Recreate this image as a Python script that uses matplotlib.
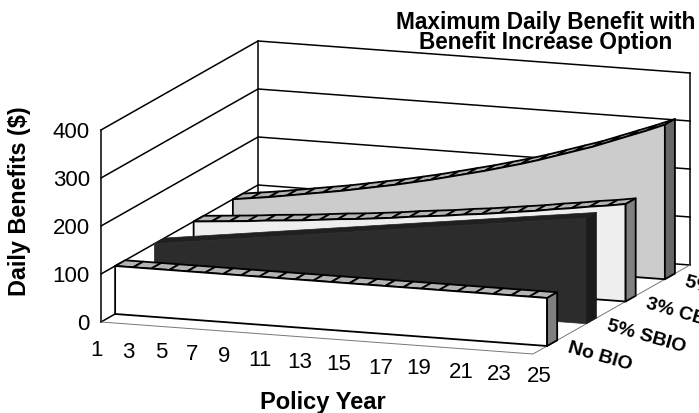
import matplotlib
matplotlib.use("Agg")
import matplotlib.pyplot as plt
from matplotlib.patches import Polygon

plt.rcParams["font.family"] = ["Liberation Sans", "DejaVu Sans"]

years = list(range(1, 26))
noBio = [100] * 25
simple5 = [100, 105, 110, 115, 120, 125, 130, 135, 140, 145, 150, 155, 160,
           165, 170, 175, 180, 185, 190, 195, 200, 205, 210, 215, 220]
compound3 = [100, 103, 106, 109, 113, 116, 119, 123, 127, 130, 134, 138, 143,
             147, 151, 156, 160, 165, 170, 175, 181, 186, 192, 197, 203]
compound5 = [100, 105, 110, 116, 122, 128, 134, 141, 148, 155, 163, 171, 180,
             189, 198, 208, 218, 229, 241, 253, 265, 279, 293, 307, 322]
seriesLabels = ["No BIO", "5% SBIO", "3% CBIO", "5% CBIO"]
valueTicks = [0, 100, 200, 300, 400]
yearTicks = [1, 3, 5, 7, 9, 11, 13, 15, 17, 19, 21, 23, 25]
# подписи годов в оригинале стоят неровно
yearLabelX = [97, 128, 161, 192, 224, 260, 300, 339, 381, 419, 461, 499, 539]
yearLabelY = [351, 352, 353, 354, 356, 360, 363, 365, 368, 369, 372, 375, 376]

def project(year, depth, value):
    # косая проекция: год, глубина (0..1), значение -> пиксели
    u = (year - 1) / 24
    return (101 + 432 * u + 157 * depth, 322 + 32 * u - 89 * depth - 0.48 * value)

def quad(ax, points, face, edge="black", lw=1.3, z=2):
    ax.add_patch(Polygon(points, closed=True, facecolor=face, edgecolor=edge,
                         linewidth=lw, joinstyle="round", zorder=z))

def drawRibbon(ax, values, depth, front, side, top, hatched=True):
    back = depth + 0.064
    edge = "black" if hatched else front
    pts = [project(years[0], depth, 0)]
    pts += [project(y, depth, v) for y, v in zip(years, values)]
    pts.append(project(years[-1], depth, 0))
    if hatched:
        for i in range(len(years) - 1):
            quad(ax, [project(years[i], depth, values[i]),
                      project(years[i + 1], depth, values[i + 1]),
                      project(years[i + 1], back, values[i + 1]),
                      project(years[i], back, values[i])], top)
    else:
        topPts = [project(y, depth, v) for y, v in zip(years, values)]
        topPts += [project(y, back, v) for y, v in zip(years[::-1], values[::-1])]
        quad(ax, topPts, top, edge=top, lw=0.5)
    quad(ax, pts, front, edge=edge, lw=1.3 if hatched else 0.5)
    quad(ax, [project(years[-1], depth, 0), project(years[-1], depth, values[-1]),
              project(years[-1], back, values[-1]), project(years[-1], back, 0)],
         side, edge=edge if hatched else side, lw=1.3 if hatched else 0.5)

fig = plt.figure(figsize=(6.99, 4.13), dpi=100)
ax = fig.add_axes([0, 0, 1, 1])
ax.set_xlim(0, 699)
ax.set_ylim(413, 0)
ax.axis("off")

# стенки и линии сетки
for tick in valueTicks:
    a = project(1, 0, tick)
    b = project(1, 1, tick)
    c = project(25, 1, tick)
    ax.plot([a[0], b[0], c[0]], [a[1], b[1], c[1]], color="black", lw=1.1, zorder=1)
    ax.text(a[0] - 11, a[1] + 3, str(tick), ha="right", va="center", fontsize=16)
for year, depth in [(1, 0), (1, 1), (25, 1)]:
    a = project(year, depth, 0)
    b = project(year, depth, valueTicks[-1])
    ax.plot([a[0], b[0]], [a[1], b[1]], color="black", lw=1.1, zorder=1)
# передний и правый край пола
floor = [project(1, 0, 0), project(25, 0, 0), project(25, 1, 0)]
ax.plot([p[0] for p in floor], [p[1] for p in floor], color="#777777", lw=0.7, zorder=1)

drawRibbon(ax, compound5, 0.84, "#cccccc", "#666666", "#b0b0b0")
drawRibbon(ax, compound3, 0.59, "#eeeeee", "#808080", "#b4b4b4")
drawRibbon(ax, simple5, 0.34, "#2c2c2c", "#1a1a1a", "#202020", hatched=False)
drawRibbon(ax, noBio, 0.09, "white", "#808080", "#b4b4b4")

for year, x, y in zip(yearTicks, yearLabelX, yearLabelY):
    ax.text(x, y, str(year), ha="center", va="center", fontsize=16)

for depth, label in zip([0.09, 0.34, 0.59, 0.84], seriesLabels):
    x, y = project(25, depth, 0)
    ax.text(x + 23, y - 6, label, ha="left", va="top", fontsize=14, fontweight="bold",
            rotation=-16, rotation_mode="anchor")

ax.text(546, 22, "Maximum Daily Benefit with", ha="center", va="center", fontsize=16.3, fontweight="bold")
ax.text(546, 43, "Benefit Increase Option", ha="center", va="center", fontsize=16.3, fontweight="bold")
ax.text(20, 201, "Daily Benefits ($)", rotation=90, ha="center", va="center", fontsize=16.8, fontweight="bold")
ax.text(323, 402, "Policy Year", ha="center", va="center", fontsize=17, fontweight="bold")

fig.savefig("out.png", dpi=100)
